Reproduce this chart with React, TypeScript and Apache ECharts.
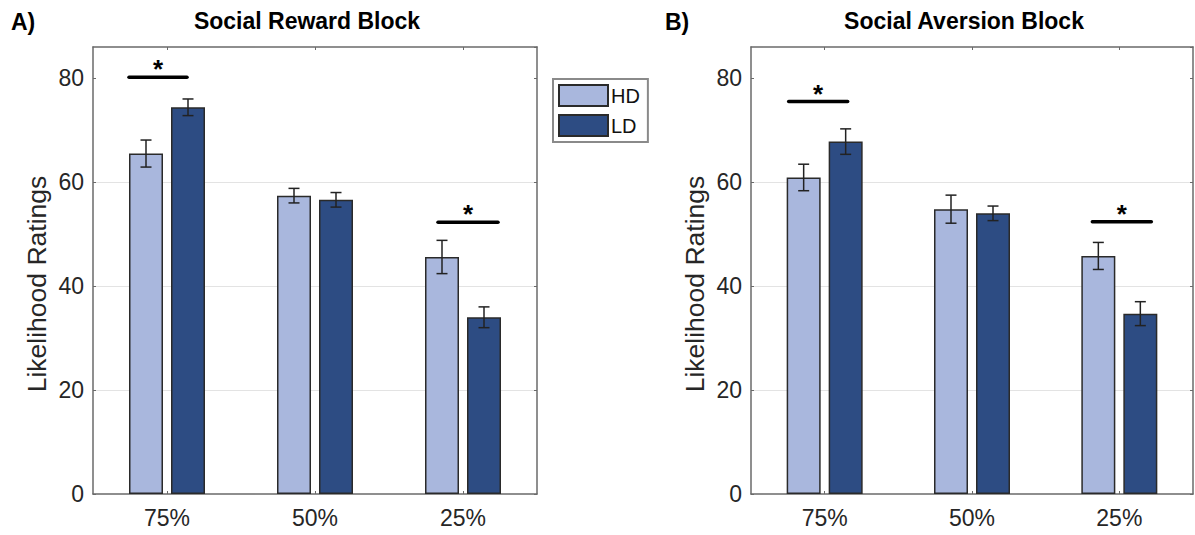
import React, { useEffect, useRef } from "react";
import * as echarts from "echarts";

// ---------- data ----------
const CATEGORIES = ["75%", "50%", "25%"];
const GROUP_NAMES = ["HD", "LD"];
const PANEL_TITLES = ["Social Reward Block", "Social Aversion Block"];
const PANEL_LETTERS = ["A)", "B)"];
const Y_AXIS_NAME = "Likelihood Ratings";

const REWARD_HD = [65.5, 57.4, 45.6];
const REWARD_HD_ERR = [2.6, 1.4, 3.2];
const REWARD_LD = [74.4, 56.6, 34.0];
const REWARD_LD_ERR = [1.6, 1.4, 2.0];

const AVERSION_HD = [60.9, 54.8, 45.8];
const AVERSION_HD_ERR = [2.55, 2.7, 2.6];
const AVERSION_LD = [67.8, 54.0, 34.7];
const AVERSION_LD_ERR = [2.45, 1.4, 2.3];

// significance markers: category index and y level of the bracket
const REWARD_SIG_CATS = [0, 2];
const REWARD_SIG_LEVELS = [80.2, 52.3];
const AVERSION_SIG_CATS = [0, 2];
const AVERSION_SIG_LEVELS = [75.5, 52.4];

const Y_MIN = 0;
const Y_MAX = 86;
const Y_STEP = 20;

// ---------- style ----------
const FONT = "'Liberation Sans', Arial, Helvetica, sans-serif";
const HD_COLOR = "#a9b7dd";
const LD_COLOR = "#2d4c83";
const EDGE = "#2a2a2a";
const AXIS_COLOR = "#6a6a6a";
const TEXT_COLOR = "#262626";
const BAR_W = 34;
const BAR_GAP_PX = 8;
const HALF_OFFSET = (BAR_W + BAR_GAP_PX) / 2;
// horizontal spans of sig brackets relative to category centre (px)
const SIG_SPANS = [
  [
    [-38, 20],
    [-25, 35],
  ],
  [
    [-36, 23],
    [-27, 32],
  ],
];

const panels = [
  {
    hd: REWARD_HD,
    hdErr: REWARD_HD_ERR,
    ld: REWARD_LD,
    ldErr: REWARD_LD_ERR,
    sigCats: REWARD_SIG_CATS,
    sigLevels: REWARD_SIG_LEVELS,
  },
  {
    hd: AVERSION_HD,
    hdErr: AVERSION_HD_ERR,
    ld: AVERSION_LD,
    ldErr: AVERSION_LD_ERR,
    sigCats: AVERSION_SIG_CATS,
    sigLevels: AVERSION_SIG_LEVELS,
  },
];

const GRIDS = [
  { left: 93, top: 47, width: 444, height: 447 },
  { left: 751, top: 47, width: 442, height: 447 },
];

function buildOption() {
  const grid: any[] = [];
  const xAxis: any[] = [];
  const yAxis: any[] = [];
  const series: any[] = [];
  const graphic: any[] = [];

  panels.forEach((p, pi) => {
    grid.push({ ...GRIDS[pi], containLabel: false });
    // bottom x axis
    xAxis.push({
      type: "category",
      gridIndex: pi,
      data: CATEGORIES,
      position: "bottom",
      axisLine: { show: true, onZero: false, lineStyle: { color: AXIS_COLOR, width: 1.5 } },
      axisTick: { show: true, inside: true, alignWithLabel: true, length: 3, lineStyle: { color: AXIS_COLOR } },
      axisLabel: { fontSize: 23, color: TEXT_COLOR, fontFamily: FONT, margin: 12 },
      splitLine: { show: false },
    });
    // top x axis (box)
    xAxis.push({
      type: "category",
      gridIndex: pi,
      data: CATEGORIES,
      position: "top",
      axisLine: { show: true, onZero: false, lineStyle: { color: AXIS_COLOR, width: 1.5 } },
      axisTick: { show: true, inside: true, alignWithLabel: true, length: 3, lineStyle: { color: AXIS_COLOR } },
      axisLabel: { show: false },
      splitLine: { show: false },
    });
    // left y axis
    yAxis.push({
      type: "value",
      gridIndex: pi,
      min: Y_MIN,
      max: Y_MAX,
      interval: Y_STEP,
      position: "left",
      axisLine: { show: true, onZero: false, lineStyle: { color: AXIS_COLOR, width: 1.5 } },
      axisTick: { show: true, inside: true, length: 3, lineStyle: { color: AXIS_COLOR } },
      axisLabel: { fontSize: 23, color: TEXT_COLOR, fontFamily: FONT, margin: 9, showMaxLabel: false },
      splitLine: {
        show: true,
        lineStyle: { color: ["rgba(0,0,0,0)", "#e3e3e3", "#e3e3e3", "#e3e3e3", "rgba(0,0,0,0)", "rgba(0,0,0,0)"], width: 1.2 },
      },
    });
    // right y axis (box)
    yAxis.push({
      type: "value",
      gridIndex: pi,
      min: Y_MIN,
      max: Y_MAX,
      interval: Y_STEP,
      position: "right",
      axisLine: { show: true, onZero: false, lineStyle: { color: AXIS_COLOR, width: 1.5 } },
      axisTick: { show: true, inside: true, length: 3, lineStyle: { color: AXIS_COLOR } },
      axisLabel: { show: false },
      splitLine: { show: false },
    });

    const xi = pi * 2;
    const yi = pi * 2;
    const groups = [
      { name: GROUP_NAMES[0], vals: p.hd, errs: p.hdErr, color: HD_COLOR, off: -HALF_OFFSET },
      { name: GROUP_NAMES[1], vals: p.ld, errs: p.ldErr, color: LD_COLOR, off: HALF_OFFSET },
    ];
    groups.forEach((g) => {
      series.push({
        type: "bar",
        name: g.name,
        xAxisIndex: xi,
        yAxisIndex: yi,
        data: g.vals,
        barWidth: BAR_W,
        barGap: (BAR_GAP_PX / BAR_W) * 100 + "%",
        itemStyle: { color: g.color, borderColor: EDGE, borderWidth: 1.5 },
        z: 2,
      });
    });
    groups.forEach((g) => {
      series.push({
        type: "custom",
        name: g.name + " error",
        xAxisIndex: xi,
        yAxisIndex: yi,
        z: 5,
        silent: true,
        data: g.vals.map((v, i) => [i, v, g.errs[i]]),
        renderItem: (params: any, api: any) => {
          const c = api.value(0);
          const v = api.value(1);
          const e = api.value(2);
          const top = api.coord([c, v + e]);
          const bot = api.coord([c, v - e]);
          const cx = top[0] + g.off;
          const cap = 5.5;
          const style = { stroke: "#222", lineWidth: 1.5 };
          return {
            type: "group",
            children: [
              { type: "line", shape: { x1: cx, y1: top[1], x2: cx, y2: bot[1] }, style },
              { type: "line", shape: { x1: cx - cap, y1: top[1], x2: cx + cap, y2: top[1] }, style },
              { type: "line", shape: { x1: cx - cap, y1: bot[1], x2: cx + cap, y2: bot[1] }, style },
            ],
          };
        },
      });
    });
    // significance brackets
    series.push({
      type: "custom",
      name: "sig",
      xAxisIndex: xi,
      yAxisIndex: yi,
      z: 6,
      silent: true,
      data: p.sigCats.map((c, i) => [c, p.sigLevels[i]]),
      renderItem: (params: any, api: any) => {
        const pt = api.coord([api.value(0), api.value(1)]);
        const span = SIG_SPANS[pi][params.dataIndex];
        const x0 = pt[0] + span[0];
        const x1 = pt[0] + span[1];
        return {
          type: "group",
          children: [
            { type: "line", shape: { x1: x0, y1: pt[1], x2: x1, y2: pt[1] }, style: { stroke: "#000", lineWidth: 3.5, lineCap: "round" } },
            {
              type: "text",
              x: (x0 + x1) / 2,
              y: pt[1] + 5,
              style: { text: "*", fontSize: 26, fontWeight: "bold", fontFamily: FONT, fill: "#000", textAlign: "center", textVerticalAlign: "bottom" },
            },
          ],
        };
      },
    });

    // title, y-axis name
    const gx = GRIDS[pi];
    graphic.push({
      type: "text",
      x: gx.left + gx.width / 2 - 8,
      y: 21,
      style: { text: PANEL_TITLES[pi], fontSize: 23, fontWeight: "bold", fontFamily: FONT, fill: "#000", textAlign: "center", textVerticalAlign: "middle" },
    });
    graphic.push({
      type: "text",
      x: gx.left - 56,
      y: 284,
      rotation: Math.PI / 2,
      style: { text: Y_AXIS_NAME, fontSize: 26.5, fontFamily: FONT, fill: TEXT_COLOR, textAlign: "center", textVerticalAlign: "middle" },
    });
  });

  graphic.push({
    type: "text",
    x: 11,
    y: 22,
    style: { text: PANEL_LETTERS[0], fontSize: 23, fontWeight: "bold", fontFamily: FONT, fill: "#000", textAlign: "left", textVerticalAlign: "middle" },
  });
  graphic.push({
    type: "text",
    x: 665,
    y: 22,
    style: { text: PANEL_LETTERS[1], fontSize: 23, fontWeight: "bold", fontFamily: FONT, fill: "#000", textAlign: "left", textVerticalAlign: "middle" },
  });

  return {
    animation: false,
    backgroundColor: "#ffffff",
    grid,
    xAxis,
    yAxis,
    series,
    graphic,
    legend: {
      data: GROUP_NAMES,
      orient: "vertical",
      left: 553,
      top: 79,
      itemWidth: 49,
      itemHeight: 21,
      itemGap: 7,
      padding: [5, 8, 5, 5],
      borderColor: "#8a8a8a",
      borderWidth: 2,
      backgroundColor: "#fff",
      icon: "rect",
      textStyle: { fontSize: 20, color: "#111", fontFamily: FONT, padding: [0, 0, 0, -2] },
    },
  };
}

export default function App() {
  const ref = useRef<HTMLDivElement>(null);
  useEffect(() => {
    if (!ref.current) return;
    const chart = echarts.init(ref.current, undefined, { renderer: "svg" });
    chart.setOption(buildOption() as any);
    return () => chart.dispose();
  }, []);
  return (
    <div
      ref={ref}
      style={{ position: "absolute", left: 0, top: 0, width: 1195, height: 535, background: "#fff" }}
    />
  );
}
